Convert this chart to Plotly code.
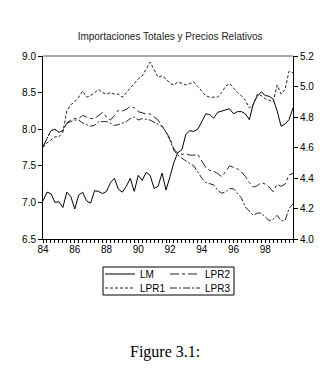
import plotly.graph_objects as go

# Quarterly time axis 1984Q1 .. 1999Q4
quarters = [1984 + i / 4 for i in range(64)]

LM = [7.02, 7.14, 7.12, 7.00, 7.01, 6.93, 7.14, 7.08,
      6.91, 7.10, 7.14, 7.02, 6.99, 7.16, 7.15, 7.12,
      7.15, 7.27, 7.33, 7.18, 7.14, 7.22, 7.33, 7.15,
      7.37, 7.30, 7.41, 7.37, 7.19, 7.22, 7.40, 7.17,
      7.35, 7.55, 7.68, 7.72, 7.93, 7.98, 7.97, 8.00,
      8.10, 8.21, 8.20, 8.15, 8.23, 8.25, 8.27, 8.28,
      8.21, 8.24, 8.24, 8.21, 8.13, 8.35, 8.45, 8.51,
      8.46, 8.45, 8.41, 8.25, 8.04, 8.07, 8.13, 8.29]

LPR1 = [4.60, 4.63, 4.65, 4.67, 4.67, 4.70, 4.84, 4.88,
        4.90, 4.93, 4.97, 4.93, 4.94, 4.96, 4.98, 4.96,
        4.95, 4.96, 4.95, 4.95, 4.93, 4.96, 4.99, 5.02,
        5.05, 5.07, 5.12, 5.16, 5.11, 5.06, 5.07, 5.05,
        5.02, 5.01, 5.03, 5.02, 5.01, 5.02, 5.03, 5.00,
        4.97, 4.94, 4.93, 4.93, 4.93, 4.96, 5.00, 5.02,
        4.99, 4.96, 4.94, 4.91, 4.86, 4.88, 4.95, 4.94,
        4.92, 4.91, 4.90, 5.01, 4.95, 4.98, 5.10, 5.09]

LPR2 = [4.605, 4.66, 4.71, 4.72, 4.70, 4.71, 4.76, 4.78,
        4.79, 4.79, 4.81, 4.80, 4.79, 4.79, 4.81, 4.83,
        4.80, 4.78, 4.81, 4.845, 4.84, 4.85, 4.87, 4.86,
        4.835, 4.83, 4.82, 4.82, 4.80, 4.78, 4.74, 4.70,
        4.66, 4.59, 4.56, 4.555, 4.56, 4.55, 4.55, 4.555,
        4.51, 4.47, 4.45, 4.445, 4.43, 4.41, 4.44, 4.48,
        4.47, 4.46, 4.44, 4.41, 4.37, 4.34, 4.35, 4.37,
        4.36, 4.34, 4.31, 4.36, 4.345, 4.36, 4.42, 4.43]

LPR3 = [4.605, 4.66, 4.71, 4.72, 4.70, 4.71, 4.76, 4.77,
        4.78, 4.78, 4.76, 4.75, 4.74, 4.745, 4.77, 4.77,
        4.77, 4.76, 4.745, 4.75, 4.76, 4.77, 4.79, 4.80,
        4.78, 4.79, 4.785, 4.78, 4.765, 4.75, 4.74, 4.70,
        4.65, 4.58, 4.55, 4.53, 4.51, 4.495, 4.48, 4.44,
        4.40, 4.37, 4.36, 4.355, 4.32, 4.30, 4.31, 4.33,
        4.33, 4.30, 4.27, 4.21, 4.185, 4.155, 4.17, 4.17,
        4.145, 4.12, 4.13, 4.155, 4.12, 4.12, 4.20, 4.23]

tick_years = [1984, 1986, 1988, 1990, 1992, 1994, 1996, 1998]
tick_text = ["84", "86", "88", "90", "92", "94", "96", "98"]

FONT = "Liberation Sans, Arial, sans-serif"

# plot area in pixels: x 43..293, y 56..239
def px_x(px):
    return (px - 43) / 250

def px_y(py):
    return (239 - py) / 183

fig = go.Figure()
fig.add_trace(go.Scatter(x=quarters, y=LM, name="LM", mode="lines",
                         line=dict(color="black", width=1), legend="legend"))
fig.add_trace(go.Scatter(x=quarters, y=LPR1, name="LPR1", mode="lines", yaxis="y2",
                         line=dict(color="#222", width=1, dash="3px,2px"), legend="legend2"))
fig.add_trace(go.Scatter(x=quarters, y=LPR2, name="LPR2", mode="lines", yaxis="y2",
                         line=dict(color="#222", width=1, dash="9px,3px,3px,3px"), legend="legend3"))
fig.add_trace(go.Scatter(x=quarters, y=LPR3, name="LPR3", mode="lines", yaxis="y2",
                         line=dict(color="#222", width=1, dash="7px,2px,2px,2px"), legend="legend4"))

def leg(xp, yp):
    return dict(x=px_x(xp), y=px_y(yp), xanchor="left", yanchor="middle",
                bgcolor="rgba(0,0,0,0)", borderwidth=0, itemwidth=30,
                font=dict(size=10, family=FONT), tracegroupgap=0)

fig.update_layout(
    width=329, height=375,
    margin=dict(l=43, r=36, t=56, b=136),
    paper_bgcolor="white", plot_bgcolor="white",
    font=dict(family=FONT, size=10, color="black"),
    title=dict(text="Importaciones Totales y Precios Relativos",
               font=dict(family=FONT, size=10, color="#222"),
               x=0.517, xanchor="center", y=1 - 36 / 375, yanchor="middle"),
    xaxis=dict(range=[1984, 1999.75], tickvals=tick_years, ticktext=tick_text,
               ticks="outside", ticklen=3, tickcolor="black", tickwidth=1,
               ticklabelstandoff=-2,
               minor=dict(dtick=0.25, tick0=1984, ticks="outside", ticklen=3,
                          tickcolor="black", tickwidth=1, showgrid=False),
               showline=True, linecolor="black", linewidth=1, showgrid=False,
               zeroline=False, tickfont=dict(size=10)),
    yaxis=dict(range=[6.5, 9.0], dtick=0.5, tick0=6.5, tickformat=".1f",
               ticks="outside", ticklen=4, tickcolor="black",
               showline=True, linecolor="black", linewidth=1, showgrid=False,
               zeroline=False, tickfont=dict(size=10)),
    yaxis2=dict(range=[4.0, 5.2], dtick=0.2, tick0=4.0, tickformat=".1f",
                overlaying="y", side="right",
                ticks="outside", ticklen=4, tickcolor="black",
                showline=True, linecolor="black", linewidth=1, showgrid=False,
                zeroline=False, tickfont=dict(size=10)),
    legend=leg(100, 274),
    legend2=leg(100, 288),
    legend3=leg(165, 274),
    legend4=leg(165, 288),
    showlegend=True,
)

# top frame line and legend box
fig.add_shape(type="line", xref="paper", yref="paper", x0=0, x1=1, y0=1, y1=1,
              line=dict(color="#555", width=1))
fig.add_shape(type="rect", xref="paper", yref="paper",
              x0=px_x(103), x1=px_x(234), y0=px_y(267), y1=px_y(295),
              line=dict(color="black", width=1))

fig.add_annotation(text="Figure 3.1:", xref="paper", yref="paper",
                   x=px_x(165), y=px_y(352), showarrow=False,
                   xanchor="center", yanchor="middle",
                   font=dict(family="Liberation Serif, Times New Roman, serif", size=16, color="black"))

fig.write_html("out.html")
